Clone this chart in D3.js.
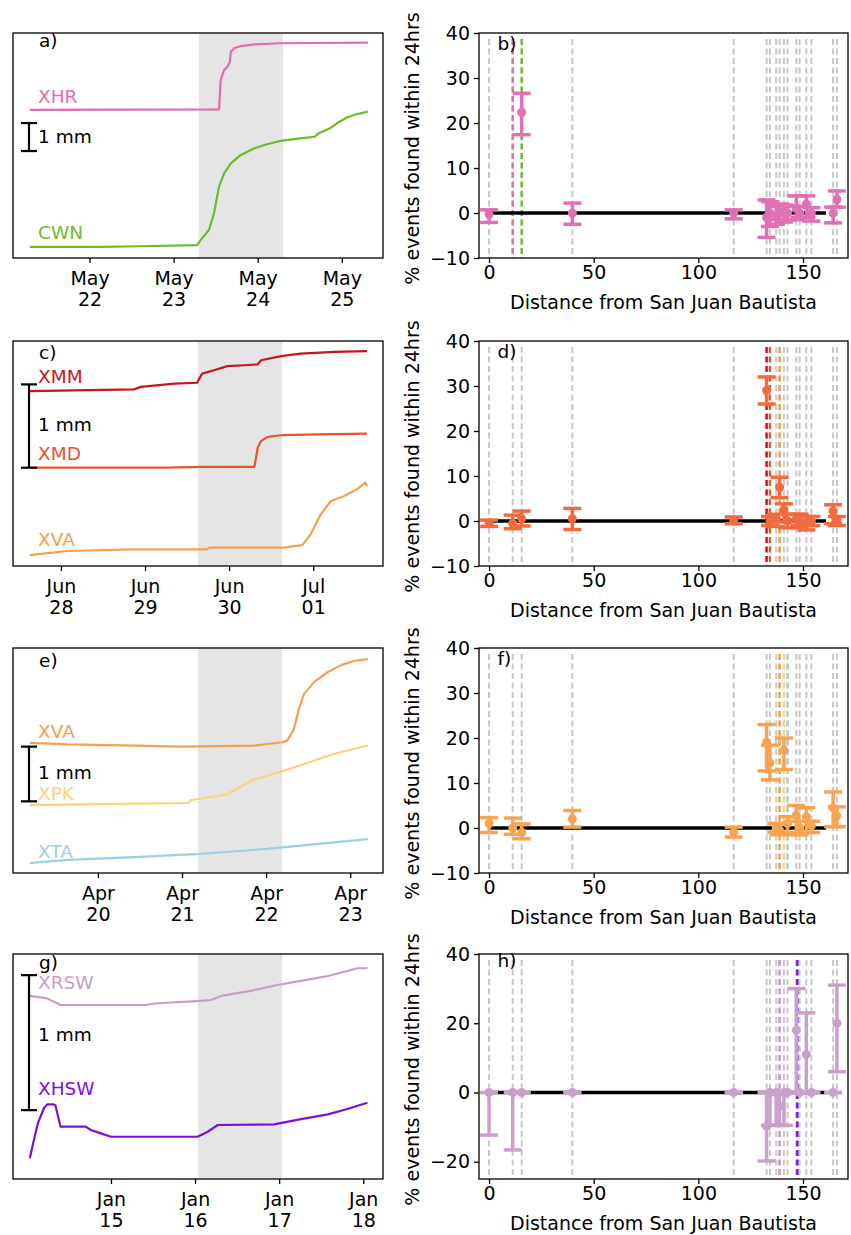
<!DOCTYPE html>
<html><head><meta charset="utf-8">
<script src="https://cdn.jsdelivr.net/npm/d3@7"></script>
<style>body{margin:0;background:#fff}svg{display:block}text{font-family:"DejaVu Sans",sans-serif}</style>
</head><body><script>
// ---------------- DATA ----------------
// Left panels: [day of month (fractional), displacement in mm]
const seriesXHR = [[21.29,5.29],[23.54,5.31],[23.56,6.36],[23.60,6.71],[23.64,6.83],[23.67,7.01],[23.68,7.37],[23.72,7.49],[23.80,7.57],[23.96,7.63],[24.27,7.67],[25.31,7.69]];
const seriesCWN = [[21.29,0.40],[22.13,0.40],[22.6,0.42],[23.28,0.46],[23.32,0.64],[23.42,1.0],[23.48,1.6],[23.54,2.55],[23.60,3.02],[23.68,3.38],[23.80,3.68],[23.96,3.92],[24.12,4.07],[24.27,4.18],[24.51,4.27],[24.68,4.33],[24.72,4.45],[24.86,4.63],[24.94,4.81],[25.06,5.02],[25.18,5.14],[25.31,5.23]];
const seriesXMM = [[27.63,2.10],[28.87,2.12],[28.95,2.15],[29.35,2.19],[29.62,2.20],[29.64,2.24],[29.68,2.31],[29.82,2.35],[29.98,2.40],[30.18,2.41],[30.34,2.42],[30.38,2.47],[30.62,2.52],[30.85,2.55],[31.25,2.57],[31.64,2.58]];
const seriesXMD = [[27.63,1.18],[28.47,1.18],[29.27,1.18],[29.66,1.19],[30.30,1.19],[30.32,1.30],[30.34,1.42],[30.38,1.50],[30.46,1.55],[30.62,1.57],[31.05,1.58],[31.64,1.59]];
const seriesXVAc = [[27.63,0.13],[28.07,0.18],[28.87,0.20],[29.74,0.20],[29.76,0.22],[30.65,0.22],[30.87,0.25],[30.97,0.38],[31.09,0.62],[31.21,0.78],[31.37,0.84],[31.52,0.92],[31.62,1.00],[31.64,0.96]];
const seriesXVAe = [[19.19,2.38],[19.64,2.35],[20.43,2.33],[20.99,2.31],[21.86,2.33],[22.19,2.39],[22.25,2.42],[22.33,2.63],[22.39,3.00],[22.45,3.27],[22.57,3.49],[22.73,3.67],[22.89,3.80],[23.05,3.88],[23.21,3.91]];
const seriesXPK = [[19.19,1.24],[19.99,1.26],[21.08,1.28],[21.10,1.33],[21.54,1.44],[21.70,1.58],[21.82,1.69],[22.17,1.85],[22.41,1.97],[22.81,2.18],[23.21,2.33]];
const seriesXTA = [[19.19,0.18],[19.64,0.24],[20.43,0.29],[21.22,0.35],[22.01,0.44],[22.81,0.56],[23.21,0.62]];
const seriesXRSW = [[14.035,1.356],[14.24,1.338],[14.40,1.289],[14.88,1.289],[15.43,1.289],[15.51,1.30],[16.07,1.32],[16.19,1.326],[16.31,1.356],[16.66,1.393],[16.98,1.437],[17.26,1.467],[17.58,1.504],[17.81,1.541],[17.93,1.561],[18.05,1.561]];
const seriesXHSW = [[14.035,0.153],[14.07,0.252],[14.13,0.412],[14.205,0.528],[14.245,0.553],[14.32,0.553],[14.34,0.545],[14.40,0.388],[14.70,0.388],[14.76,0.363],[14.88,0.338],[15.00,0.313],[16.03,0.313],[16.15,0.350],[16.27,0.40],[16.94,0.405],[17.26,0.444],[17.58,0.479],[17.81,0.519],[18.05,0.565]];

const ticksA = [22,23,24,25];
const ticksC = [28,29,30,31];
const ticksE = [20,21,22,23];
const ticksG = [15,16,17,18];

// Right panels: station distances and % events (value, lower, upper)
const stationDist = [0,11.3,15.6,39.8,116.9,132.6,134.2,137.2,138.8,140.9,142.6,146.8,148.4,151.6,154.0,164.4,166.2];
const bVal = [-0.3,null,22.4,0,0,-1,0,-0.5,0.5,0,0,1,0,2,0,0,3];
const bLo  = [-2.1,null,17.4,-2.5,-1.3,-5.4,-3,-2.5,-1.5,-2,-1.5,-1.5,-1,-1,-1.8,-2.2,1.3];
const bHi  = [0.7,null,26.6,2.2,0.7,2.9,2.5,1.5,2,1.8,1.5,3.8,1.5,3.8,1.2,1.3,4.9];
const dVal = [-0.5,-0.5,0.5,0.5,0,29,0,0.5,7.5,2.5,0,0.5,0,-0.5,0,2.2,0.3];
const dLo  = [-1.2,-1.7,-1.1,-1.9,-0.6,26,-1,-1.2,5.2,-0.2,-1.5,-1.5,-1,-2,-1,-0.6,-1];
const dHi  = [0.2,1.3,2.2,2.8,0.9,32,1,1.5,9.7,3.8,1.5,1.5,1.5,1,1,3.6,1.0];
const fVal = [1,0,-1,2,-1,19,14.5,0,-0.5,17.3,1,2.8,0,2.5,0.5,4.5,2.7];
const fLo  = [-1,-1.4,-2.4,0.2,-2,12.7,10.7,-1,-1.5,13,-1,-1.5,-1.5,-1,-1,0.3,0.3];
const fHi  = [2.3,2.2,0.9,3.9,0.2,23,18.4,1,1,20,2.5,5,1.5,4.5,1.5,8,4.7];
const hVal = [0,0,0,0,0,-9.8,0,0,-4,0,0,18,0,11,0,0,20];
const hLo  = [-12.3,-16.6,0,0,0,-19.8,-9.5,-9.5,-9.5,-9.5,0,0,0,0,0,0,6];
const hHi  = [0,0,0,0,0,0,0,0,0,0,0,30,0,23,0,0,31];
const ticksPct = [-10,0,10,20,30,40];
const ticksPctH = [-20,0,20,40];
const ticksDist = [0,50,100,150];

// ---------------- STYLE / LAYOUT ----------------
const C = {XHR:"#e06cb0",CWN:"#6cbb2c",XMM:"#c8141c",XMD:"#e8542c",XVA:"#f4a04c",XPK:"#fbd27a",XTA:"#9dd0e6",XRSW:"#c99cc9",XHSW:"#7b0fe0"};
const W=851,H=1235,PH=225;
const rowTops=[33,341,648,954];
const L0=13,L1=383,R0=479,R1=848;
const FS=19;

const svg = d3.select("body").append("svg").attr("width",W).attr("height",H);
const fmtMonth = d3.utcFormat("%b"), fmtDay = d3.utcFormat("%d");
function dayToDate(month, day){ return new Date(Date.UTC(2001, month, 1) + (day-1)*864e5); }

const leftPanels = [
 {letter:"a)",letterDy:14,top:rowTops[0],month:4,start:21.29,shade:[23.3,24.3],ticks:ticksA,ymax:225/28,
  series:[{name:"XHR",data:seriesXHR,color:C.XHR,lab:5.54},{name:"CWN",data:seriesCWN,color:C.CWN,lab:0.68}],bar:[3.82,4.82],barLab:4.11},
 {letter:"c)",letterDy:17.5,top:rowTops[1],month:5,start:27.63,shade:[29.63,30.63],ticks:ticksC,ymax:225/83.3,
  series:[{name:"XMM",data:seriesXMM,color:C.XMM,lab:2.2},{name:"XMD",data:seriesXMD,color:C.XMD,lab:1.27},{name:"XVA",data:seriesXVAc,color:C.XVA,lab:0.24}],bar:[1.18,2.18],barLab:1.62},
 {letter:"e)",letterDy:19,top:rowTops[2],month:3,start:19.19,shade:[21.19,22.19],ticks:ticksE,ymax:225/54.7,
  series:[{name:"XVA",data:seriesXVAe,color:C.XVA,lab:2.46},{name:"XPK",data:seriesXPK,color:C.XPK,lab:1.33},{name:"XTA",data:seriesXTA,color:C.XTA,lab:0.27}],bar:[1.31,2.31],barLab:1.71},
 {letter:"g)",letterDy:15,top:rowTops[3],month:0,start:14.035,shade:[16.035,17.035],ticks:ticksG,ymax:225/135,
  series:[{name:"XRSW",data:seriesXRSW,color:C.XRSW,lab:1.41},{name:"XHSW",data:seriesXHSW,color:C.XHSW,lab:0.62}],bar:[0.51,1.51],barLab:1.02}
];

leftPanels.forEach(p=>{
  const g = svg.append("g");
  const x = d3.scaleUtc().domain([dayToDate(p.month,p.start-0.2), dayToDate(p.month,p.start+4.2)]).range([L0,L1]);
  const y = d3.scaleLinear().domain([0,p.ymax]).range([p.top+PH,p.top]);
  const xs0 = x(dayToDate(p.month,p.shade[0])), xs1 = x(dayToDate(p.month,p.shade[1]));
  g.append("rect").attr("x",xs0).attr("y",p.top).attr("width",xs1-xs0).attr("height",PH).attr("fill","#e5e5e5");
  const line = d3.line().x(d=>x(dayToDate(p.month,d[0]))).y(d=>y(d[1]));
  p.series.forEach(s=>{
    g.append("path").attr("d",line(s.data)).attr("fill","none").attr("stroke",s.color).attr("stroke-width",2.2).attr("stroke-linejoin","round");
    g.append("text").attr("x",L0+25).attr("y",y(s.lab)).attr("fill",s.color).attr("font-size",18.5).text(s.name);
  });
  // scale bar
  const bx = L0+16;
  g.append("line").attr("x1",bx).attr("x2",bx).attr("y1",y(p.bar[0])).attr("y2",y(p.bar[1])).attr("stroke","#000").attr("stroke-width",2.2);
  p.bar.forEach(v=>g.append("line").attr("x1",bx-8).attr("x2",bx+8).attr("y1",y(v)).attr("y2",y(v)).attr("stroke","#000").attr("stroke-width",2.2));
  g.append("text").attr("x",L0+25).attr("y",y(p.barLab)).attr("font-size",18.5).attr("fill","#000").text("1 mm");
  g.append("text").attr("x",L0+26).attr("y",p.top+p.letterDy).attr("font-size",18.5).attr("fill","#000").text(p.letter);
  g.append("rect").attr("x",L0).attr("y",p.top).attr("width",L1-L0).attr("height",PH).attr("fill","none").attr("stroke","#000").attr("stroke-width",1.3);
  const ax = g.append("g").attr("transform",`translate(0,${p.top+PH})`)
    .call(d3.axisBottom(x).tickValues(p.ticks.map(d=>dayToDate(p.month,d))).tickSize(5).tickFormat(""));
  ax.select(".domain").remove();
  ax.selectAll(".tick line").attr("stroke","#000").attr("stroke-width",1.3);
  ax.selectAll(".tick").each(function(d){
    const t = d3.select(this).append("text").attr("fill","#000").attr("font-size",FS).attr("text-anchor","middle");
    t.append("tspan").attr("x",0).attr("y",26.5).text(fmtMonth(d));
    t.append("tspan").attr("x",0).attr("y",48).text(fmtDay(d));
  });
});

const rightPanels = [
 {letter:"b)",top:rowTops[0],ydom:[-10,40],yt:ticksPct,val:bVal,lo:bLo,hi:bHi,color:"#e070b4",
  marks:[{d:11.3,c:C.XHR},{d:15.6,c:C.CWN}]},
 {letter:"d)",top:rowTops[1],ydom:[-10,40],yt:ticksPct,val:dVal,lo:dLo,hi:dHi,color:"#f26b3d",
  marks:[{d:132.6,c:C.XMM},{d:134.2,c:C.XMD},{d:138.8,c:C.XVA}]},
 {letter:"f)",top:rowTops[2],ydom:[-10,40],yt:ticksPct,val:fVal,lo:fLo,hi:fHi,color:"#f7a34f",
  marks:[{d:138.8,c:C.XVA},{d:140.9,c:C.XPK},{d:142.6,c:C.XTA}]},
 {letter:"h)",top:rowTops[3],ydom:[-25,40],yt:ticksPctH,val:hVal,lo:hLo,hi:hHi,color:"#c9a0cc",
  marks:[{d:138.8,c:C.XRSW},{d:147.3,c:C.XHSW}]}
];

rightPanels.forEach(p=>{
  const g = svg.append("g");
  const x = d3.scaleLinear().domain([-4.8,171.5]).range([R0,R1]);
  const y = d3.scaleLinear().domain(p.ydom).range([p.top+PH,p.top]);
  stationDist.forEach(d=>{
    g.append("line").attr("x1",x(d)).attr("x2",x(d)).attr("y1",p.top+6).attr("y2",p.top+PH)
      .attr("stroke","#c8c8c8").attr("stroke-width",2).attr("stroke-dasharray","6,3.5");
  });
  p.marks.forEach(m=>{
    g.append("line").attr("x1",x(m.d)).attr("x2",x(m.d)).attr("y1",p.top+6).attr("y2",p.top+PH)
      .attr("stroke",m.c).attr("stroke-width",2.4).attr("stroke-dasharray","6,3.5");
  });
  g.append("line").attr("x1",x(0)).attr("x2",x(161)).attr("y1",y(0)).attr("y2",y(0)).attr("stroke","#000").attr("stroke-width",3.5);
  stationDist.forEach((d,i)=>{
    if(p.val[i]==null) return;
    const cx = x(d);
    g.append("line").attr("x1",cx).attr("x2",cx).attr("y1",y(p.lo[i])).attr("y2",y(p.hi[i])).attr("stroke",p.color).attr("stroke-width",3.5);
    [p.lo[i],p.hi[i]].forEach(v=>g.append("line").attr("x1",cx-9).attr("x2",cx+9).attr("y1",y(v)).attr("y2",y(v)).attr("stroke",p.color).attr("stroke-width",3.5));
    g.append("circle").attr("cx",cx).attr("cy",y(p.val[i])).attr("r",4.5).attr("fill",p.color);
  });
  g.append("text").attr("x",x(4)).attr("y",y(36.3)).attr("font-size",18.5).attr("fill","#000").text(p.letter);
  g.append("rect").attr("x",R0).attr("y",p.top).attr("width",R1-R0).attr("height",PH).attr("fill","none").attr("stroke","#000").attr("stroke-width",1.3);
  const ax = g.append("g").attr("transform",`translate(0,${p.top+PH})`)
    .call(d3.axisBottom(x).tickValues(ticksDist).tickSize(5).tickPadding(4).tickFormat(d3.format("d")));
  const ay = g.append("g").attr("transform",`translate(${R0},0)`)
    .call(d3.axisLeft(y).tickValues(p.yt).tickSize(5).tickPadding(4).tickFormat(d=>d<0?"\u2212"+Math.abs(d):String(d)));
  [ax,ay].forEach(a=>{
    a.select(".domain").remove();
    a.selectAll(".tick line").attr("stroke","#000").attr("stroke-width",1.3);
    a.selectAll(".tick text").attr("fill","#000").attr("font-size",FS).style("font-family","DejaVu Sans");
  });
  ax.selectAll(".tick text").attr("dy",null).attr("y",26-5);
  g.append("text").attr("x",(R0+R1)/2).attr("y",p.top+PH+51).attr("text-anchor","middle").attr("font-size",FS).attr("fill","#000").text("Distance from San Juan Bautista");
  g.append("text").attr("transform",`translate(419,${p.top+PH/2+3}) rotate(-90)`).attr("text-anchor","middle").attr("font-size",FS).attr("fill","#000").text("% events found within 24hrs");
});
</script></body></html>
